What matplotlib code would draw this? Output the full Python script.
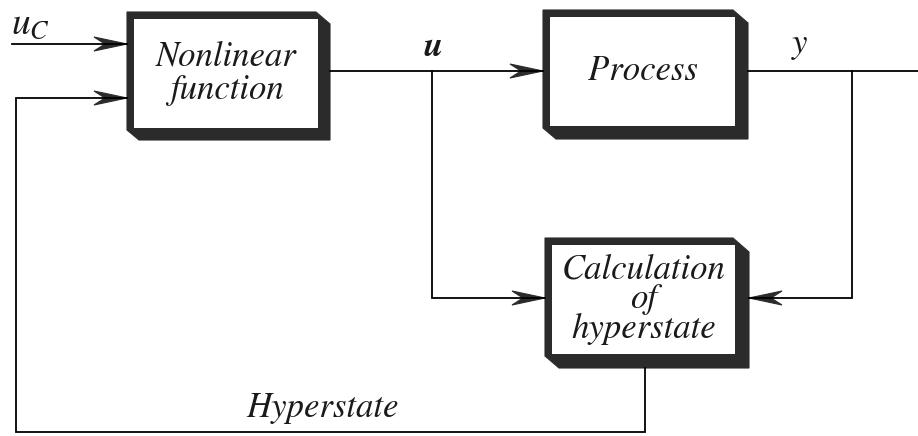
import matplotlib.pyplot as plt
from matplotlib.patches import Polygon, Rectangle

plt.rcParams['mathtext.fontset'] = 'stix'

# block layout in pixel coordinates: front face (x0, y0, x1, y1), depth of shadow
block_names = ['Nonlinear\nfunction', 'Process', 'Calculation\nof\nhyperstate']
block_boxes = [(127, 12, 318, 128), (543, 10, 735, 126), (545, 238, 735, 354)]
block_depth = [12, 13, 14]
block_spacing = [1.05, 1.0, 0.9]

# signal paths (polylines), the last point of each arrow path gets an arrowhead
arrow_paths = [
    [(12, 44), (127, 44)],                       # u_c
    [(330, 71), (543, 71)],                      # u -> process
    [(432, 71), (432, 298), (545, 298)],         # u -> calculation
    [(852, 71), (852, 298), (749, 298)],         # y -> calculation
    [(645, 368), (645, 432), (16, 432), (16, 98), (127, 98)],  # hyperstate
]
plain_paths = [
    [(748, 71), (918, 71)],                      # y output
]
labels = [('$u_C$', 30, 24, 27), ('$\\boldsymbol{u}$', 433, 46, 25),
          ('$y$', 800, 45, 25)]
hyper_label = ('Hyperstate', 322, 408)

DARK = '#2b2b2b'
SERIF = ['STIXGeneral', 'DejaVu Serif']


def draw_block(ax, box, d, t=7):
    x0, y0, x1, y1 = box
    outer = [(x0, y0), (x1 - 2, y0), (x1 + d, y0 + d), (x1 + d, y1 + d),
             (x0 + d, y1 + d), (x0, y1 + 2)]
    ax.add_patch(Polygon(outer, closed=True, fc=DARK, ec=DARK, lw=0.8))
    ax.add_patch(Rectangle((x0 + t, y0 + t), x1 - x0 - t, y1 - y0 - t,
                           fc='white', ec='none'))


def arrow_head(ax, p_from, p_to, L=33, w=7, notch=11):
    (xa, ya), (xb, yb) = p_from, p_to
    dx, dy = xb - xa, yb - ya
    n = (dx ** 2 + dy ** 2) ** 0.5
    ux, uy = dx / n, dy / n
    px, py = -uy, ux
    pts = [(xb, yb),
           (xb - L * ux + w * px, yb - L * uy + w * py),
           (xb - (L - notch) * ux, yb - (L - notch) * uy),
           (xb - L * ux - w * px, yb - L * uy - w * py)]
    ax.add_patch(Polygon(pts, closed=True, fc=DARK, ec=DARK, lw=0.8))


fig = plt.figure(figsize=(9.18, 4.36), dpi=100)
ax = fig.add_axes([0, 0, 1, 1])
ax.set_xlim(0, 918)
ax.set_ylim(436, 0)
ax.axis('off')

for path in arrow_paths + plain_paths:
    xs, ys = zip(*path)
    ax.plot(xs, ys, color='black', lw=1.3, solid_joinstyle='miter')
for path in arrow_paths:
    arrow_head(ax, path[-2], path[-1])

for name, box, d, ls in zip(block_names, block_boxes, block_depth, block_spacing):
    draw_block(ax, box, d)
    cx = (box[0] + box[2]) / 2 + 4
    cy = (box[1] + box[3]) / 2 + 3
    ax.text(cx, cy, name, ha='center', va='center', fontsize=25,
            style='italic', family=SERIF, linespacing=ls, color='#1a1a1a')

for txt, x, y, fs in labels:
    ax.text(x, y, txt, ha='center', va='center', fontsize=fs, color='#1a1a1a')

ax.text(hyper_label[1], hyper_label[2], hyper_label[0], ha='center',
        va='center', fontsize=25, style='italic', family=SERIF, color='#1a1a1a')

fig.savefig('out.png', dpi=100)
